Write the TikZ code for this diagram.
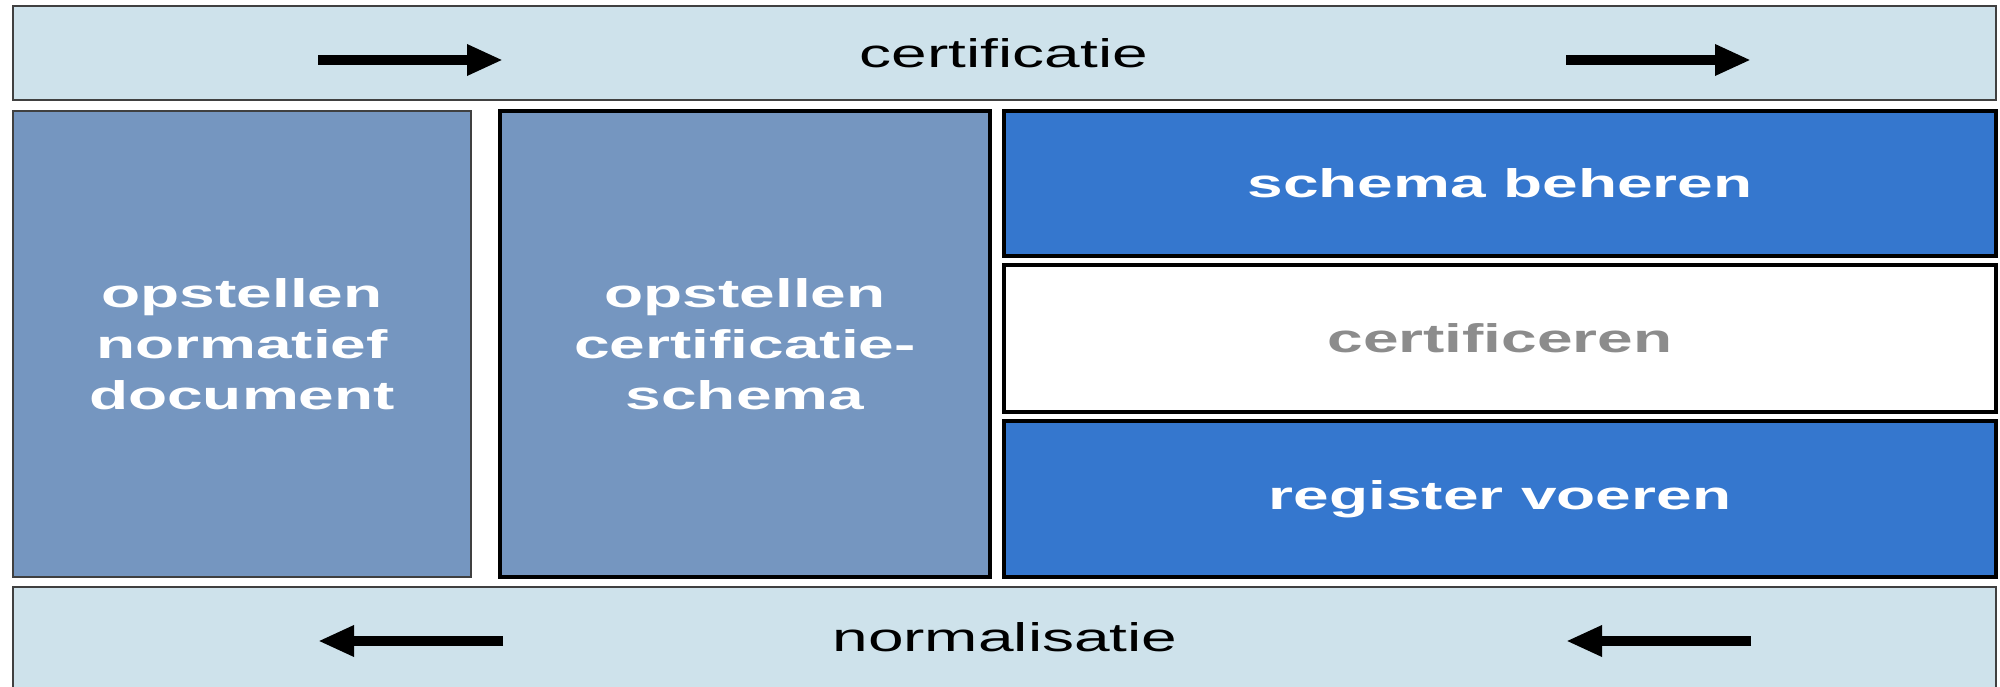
\documentclass[tikz,border=0pt]{standalone}
\usepackage{fontspec}
\usetikzlibrary{arrows.meta}
\newfontfamily\widereg[FakeStretch=1.6]{Liberation Sans}
\newfontfamily\widebold[FakeStretch=1.6]{Liberation Sans Bold}
\definecolor{band}{RGB}{206,226,235}
\definecolor{steel}{RGB}{117,150,192}
\definecolor{royal}{RGB}{53,119,206}
\definecolor{greytxt}{RGB}{140,140,140}
\begin{document}
\begin{tikzpicture}[x=1pt,y=-1pt,
  box/.style={rectangle,inner sep=0pt,outer sep=0pt,anchor=north west},
  bandbox/.style={box,fill=band,draw=black!75,line width=1.5pt},
  thinbox/.style={box,fill=steel,draw=black!75,line width=1.5pt},
  thickbox/.style={box,draw=black,line width=3.5pt},
  bandtext/.style={inner sep=0pt,font=\widereg\fontsize{40}{51}\selectfont},
  boxtext/.style={inner sep=0pt,align=center,text=white,font=\widebold\fontsize{40}{51}\selectfont},
  flow/.style={line width=10pt,-{Triangle[length=36pt,width=29pt]}}
]
\useasboundingbox (0,0) rectangle (2000,687);
% bands
\node[bandbox,minimum width=1983pt,minimum height=94pt] (top) at (13,6) {};
\node[bandbox,minimum width=1983pt,minimum height=120pt] (bottom) at (13,587) {};
\node[bandtext] (certificatie) at (1004,53) {certificatie};
\node[bandtext] (normalisatie) at (1005,637) {normalisatie};
% left and middle boxes
\node[thinbox,minimum width=458pt,minimum height=466pt] (normdoc) at (13,111) {};
\node[boxtext] (normdoctext) at (normdoc.center) {opstellen\\normatief\\document};
\node[thickbox,fill=steel,minimum width=490pt,minimum height=466pt] (schema) at (500,111) {};
\node[boxtext] (schematext) at (schema.center) {opstellen\\certificatie-\\schema};
% right boxes
\node[thickbox,fill=royal,minimum width=992pt,minimum height=145pt] (beheren) at (1004,111) {};
\node[boxtext] (beherentext) at (beheren.center) {schema beheren};
\node[thickbox,fill=white,minimum width=992pt,minimum height=147pt] (cert) at (1004,265) {};
\node[boxtext,text=greytxt] (certtext) at (cert.center) {certificeren};
\node[thickbox,fill=royal,minimum width=992pt,minimum height=156pt] (register) at (1004,421) {};
\node[boxtext] (registertext) at (register.center) {register voeren};
% arrows
\coordinate (a1s) at (318,60);  \coordinate (a1e) at (503,60);
\coordinate (a2s) at (1566,60); \coordinate (a2e) at (1751,60);
\coordinate (a3s) at (503,641); \coordinate (a3e) at (318,641);
\coordinate (a4s) at (1751,641);\coordinate (a4e) at (1566,641);
\draw[flow] (a1s) -- (a1e);
\draw[flow] (a2s) -- (a2e);
\draw[flow] (a3s) -- (a3e);
\draw[flow] (a4s) -- (a4e);
\end{tikzpicture}
\end{document}
